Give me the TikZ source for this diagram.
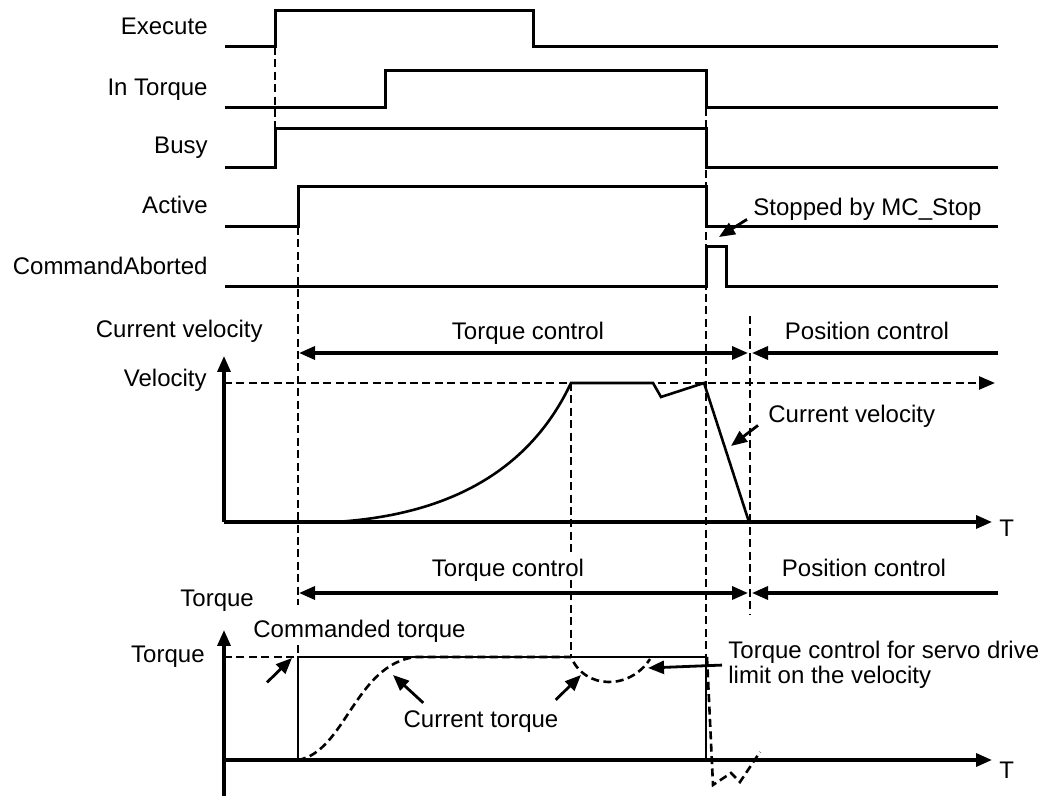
\documentclass[tikz,border=0pt]{standalone}
\usepackage{fontspec}
\setmainfont{Liberation Sans}
\usetikzlibrary{arrows.meta,positioning}

\begin{document}
\begin{tikzpicture}[x=0.5pt,y=-0.5pt,>={Triangle[length=8pt,width=6.5pt]},
	labelnode/.style={inner sep=0pt,font=\fontsize{12}{12.5}\selectfont},
	sigline/.style={line width=1.5pt},
	axisline/.style={->,line width=1.7pt},
	spanline/.style={line width=1.7pt},
	guideline/.style={line width=1.3pt,dash pattern=on 4pt off 2.2pt},
	noteline/.style={->,line width=1.4pt}]

	\useasboundingbox (0,0) rectangle (1045,796);

	% signal names
	\node [labelnode,anchor=base east] (execute) at (208,35) {Execute};
	\node [labelnode,anchor=base east] (intorque) at (208,96) {In Torque};
	\node [labelnode,anchor=base east] (busy) at (208,154) {Busy};
	\node [labelnode,anchor=base east] (active) at (208,214) {Active};
	\node [labelnode,anchor=base east] (aborted) at (208,275) {CommandAborted};

	% timing signals
	\draw [sigline] (225,47) -- (275,47) -- (275,11) -- (533,11) -- (533,47) -- (998,47);
	\draw [sigline] (225,108) -- (385,108) -- (385,71) -- (706,71) -- (706,108) -- (998,108);
	\draw [sigline] (225,168) -- (275,168) -- (275,129) -- (706,129) -- (706,168) -- (998,168);
	\draw [sigline] (225,227) -- (298,227) -- (298,187) -- (706,187) -- (706,227) -- (998,227);
	\draw [sigline] (225,287) -- (706,287) -- (706,247) -- (726,247) -- (726,287) -- (998,287);

	\node [labelnode,anchor=base west] (stop) at (753,216) {Stopped by MC\_Stop};
	\coordinate (stoptip) at (719,237);
	\draw [noteline] ([shift={(-6,-2)}]stop.south west) to (stoptip);

	% dashed guides
	\draw [guideline] (275,47) -- (275,129);
	\draw [guideline] (298,227) -- (298,605);
	\draw [guideline] (298,645) -- (298,657);
	\draw [guideline] (706,108) -- (706,657);
	\draw [guideline] (571,383) -- (571,555);
	\draw [guideline] (571,580) -- (571,657);
	\draw [guideline] (750,316) -- (750,614);

	% velocity
	\node [labelnode,anchor=base east] (curvel) at (263,338) {Current velocity};
	\node [labelnode,anchor=base east] (vel) at (207,387) {Velocity};
	\node [labelnode,anchor=base] (tqvel) at (528,340) {Torque control};
	\node [labelnode,anchor=base] (posvel) at (867,340) {Position control};
	\draw [spanline,<->] (299,353) -- (748,353);
	\draw [spanline,->] (998,353) -- (752,353);
	\draw [axisline] (224,522) -- (224,356);
	\draw [axisline] (224,522) -- (992,522);
	\node [labelnode,anchor=base west] (tvel) at (999,537) {T};
	\draw [guideline,->] (224,383) -- (995,383);
	\draw [line width=1.3pt] (335,522) .. controls (450,515) and (530,470) .. (571,383)
		-- (653,383) -- (661,397) -- (704,383) -- (749,522);

	\node [labelnode,anchor=base west] (vnote) at (768,423) {Current velocity};
	\coordinate (vtip) at (731,446);
	\draw [noteline] ([shift={(-10,-3)}]vnote.south west) to (vtip);

	% torque
	\node [labelnode,anchor=base west] (tqaxis) at (180,607) {Torque};
	\node [labelnode,anchor=base east] (tqlevel) at (205,662) {Torque};
	\node [labelnode,anchor=base] (tqtq) at (508,577) {Torque control};
	\node [labelnode,anchor=base] (postq) at (864,577) {Position control};
	\draw [spanline,<->] (299,593) -- (748,593);
	\draw [spanline,->] (998,593) -- (752,593);
	\draw [axisline] (224,796) -- (224,630);
	\draw [axisline] (224,760) -- (992,760);
	\node [labelnode,anchor=base west] (ttq) at (999,778) {T};
	\draw [guideline] (224,657) -- (298,657);

	\draw [line width=1.3pt] (298,760) -- (298,657) -- (706,657) -- (706,760);
	\draw [guideline] (298,760) .. controls (345,752) and (355,665) .. (415,657) -- (571,657)
		.. controls (585,690) and (630,690) .. (650,659);
	\draw [guideline] (707,657) -- (713,785) -- (731,773) -- (740,782) -- (760,752);

	\node [labelnode,anchor=base west] (cmd) at (253,638) {Commanded torque};
	\coordinate (cmdtip) at (292,658);
	\draw [noteline] ([shift={(14,39)}]cmd.south west) to (cmdtip);

	\node [labelnode,anchor=base] (curtq) at (481,727) {Current torque};
	\coordinate (curtip1) at (393,675);
	\coordinate (curtip2) at (581,675);
	\draw [noteline] ([shift={(20,-7)}]curtq.north west) to (curtip1);
	\draw [noteline] ([shift={(-3,-10)}]curtq.north east) to (curtip2);

	\node [labelnode,anchor=north west,align=left] (servo) at (728,641) {Torque control for servo drive\\limit on the velocity};
	\coordinate (servotip) at (648,668);
	\draw [noteline] ([shift={(-6,0)}]servo.west) to (servotip);

\end{tikzpicture}
\end{document}
